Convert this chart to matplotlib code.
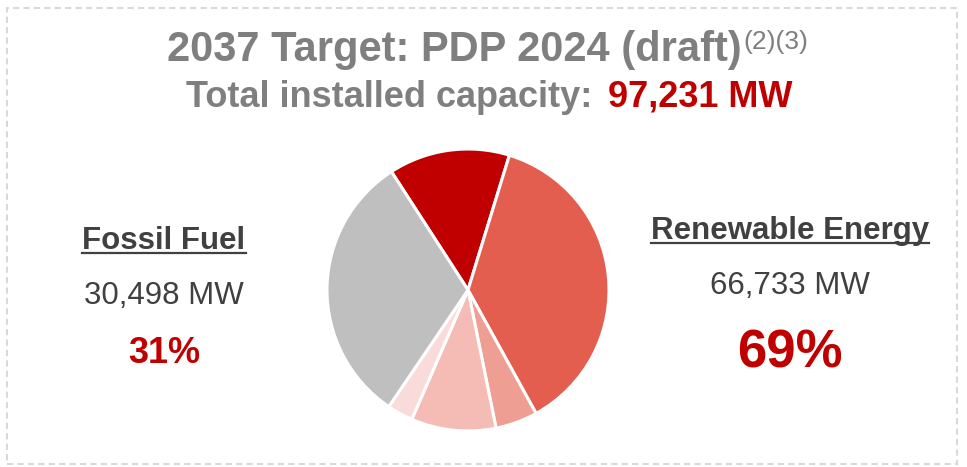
import matplotlib.pyplot as plt
from matplotlib.patches import Rectangle
from matplotlib.lines import Line2D

plt.rcParams['font.family'] = ['Liberation Sans', 'DejaVu Sans']

W, H = 967, 467

# installed capacity in 2037 (MW)
total_mw = 97231
fossil_mw = 30498
renewable_mw = 66733

# pie slices, clockwise from the top: renewable sources first, fossil last
slice_mw = [13500, 36200, 4700, 9450, 2883, fossil_mw]
slice_colors = ['#C00000', '#E35E4E', '#EE9E92', '#F4BCB5', '#F9DCDA', '#BFBFBF']

fossil_pct = round(100 * fossil_mw / total_mw)
renewable_pct = round(100 * renewable_mw / total_mw)

GREY = '#7F7F7F'
DARK = '#404040'
RED = '#C00000'

fig = plt.figure(figsize=(W / 100, H / 100), dpi=100)
renderer = fig.canvas.get_renderer()


def put(x, y, s, **kw):
    # x, y in pixels measured from the top-left corner
    return fig.text(x / W, 1 - y / H, s, **kw)


def width(t):
    return t.get_window_extent(renderer).width


# dashed frame around the whole panel
fig.add_artist(Rectangle((7 / W, 1 - 464 / H), 950 / W, 456 / H,
                         transform=fig.transFigure, fill=False,
                         ec='#D9D9D9', lw=1.5, ls=(0, (3, 2))))

# title, line 1 with superscript notes
t1 = put(0, 61, '2037 Target: PDP 2024 (draft)', fontsize=30,
         fontweight='bold', color=GREY, va='baseline')
sup = put(0, 49, '(2)(3)', fontsize=19, color=GREY, va='baseline')
w1, ws = width(t1), width(sup)
left = 487 - (w1 + ws) / 2
t1.set_x(left / W)
sup.set_x((left + w1 + 1) / W)

# title, line 2 with the total in red
g = put(0, 107, 'Total installed capacity:', fontsize=26,
        fontweight='bold', color=GREY, va='baseline')
r = put(0, 107, f'{total_mw:,} MW', fontsize=26,
        fontweight='bold', color=RED, va='baseline')
gap = 16
wg, wr = width(g), width(r)
left = 489 - (wg + gap + wr) / 2
g.set_x(left / W)
r.set_x((left + wg + gap) / W)


def side_label(cx, y_head, y_mw, y_pct, head, mw, pct, pct_size):
    h = put(cx, y_head, head, fontsize=22.5, fontweight='bold',
            color=DARK, ha='center', va='baseline')
    bb = h.get_window_extent(renderer)
    yl = 1 - (y_head + 3.5) / H
    fig.add_artist(Line2D([bb.x0 / W, bb.x1 / W], [yl, yl],
                          transform=fig.transFigure, color=DARK, lw=1.6))
    put(cx, y_mw, f'{mw:,} MW', fontsize=22.5, color=DARK,
        ha='center', va='baseline')
    put(cx, y_pct, f'{pct}%', fontsize=pct_size, fontweight='bold',
        color=RED, ha='center', va='baseline')


side_label(164, 249, 304, 363, 'Fossil Fuel', fossil_mw, fossil_pct, 26)
side_label(790, 239, 294, 368, 'Renewable Energy', renewable_mw,
           renewable_pct, 38)

# pie
cx, cy, rad = 468, 290, 141
ax = fig.add_axes([(cx - rad) / W, (H - cy - rad) / H, 2 * rad / W, 2 * rad / H])
ax.pie(slice_mw, colors=slice_colors, startangle=122.9, counterclock=False,
       wedgeprops=dict(edgecolor='white', linewidth=2.2))
ax.set_xlim(-1, 1)
ax.set_ylim(-1, 1)
ax.axis('off')

fig.savefig('out.png', dpi=100)
